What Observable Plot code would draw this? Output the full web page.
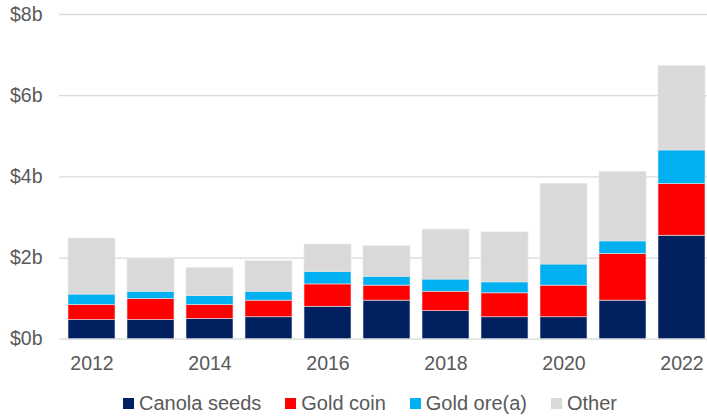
<!DOCTYPE html>
<html>
<head>
<meta charset="utf-8">
<script src="https://cdn.jsdelivr.net/npm/d3@7"></script>
<script src="https://cdn.jsdelivr.net/npm/@observablehq/plot@0.6"></script>
<style>
  html, body { margin: 0; padding: 0; background: #fff; overflow: hidden; }
  #wrap { position: relative; width: 707px; height: 417px; font-family: "Liberation Sans", Arial, sans-serif; }
  #legend { position: absolute; top: 392px; left: 123px; display: flex; align-items: center; font-size: 20px; color: #595959; white-space: nowrap; }
  .item { display: flex; align-items: center; margin-right: 24px; }
  .sw { width: 11px; height: 11px; margin-right: 5px; }
</style>
</head>
<body>
<div id="wrap"><div id="chart"></div><div id="legend"></div></div>
<script>
const years = ["2012","2013","2014","2015","2016","2017","2018","2019","2020","2021","2022"];
const categories = ["Canola seeds", "Gold coin", "Gold ore(a)", "Other"];
const colors = ["#002060", "#FF0000", "#00B0F0", "#D9D9D9"];
const canolaSeeds = [0.47, 0.47, 0.50, 0.54, 0.80, 0.95, 0.69, 0.54, 0.54, 0.95, 2.55];
const goldCoin    = [0.37, 0.52, 0.34, 0.41, 0.55, 0.37, 0.48, 0.59, 0.78, 1.15, 1.27];
const goldOre     = [0.26, 0.18, 0.22, 0.22, 0.31, 0.22, 0.30, 0.27, 0.52, 0.31, 0.83];
const other       = [1.38, 0.81, 0.69, 0.75, 0.67, 0.75, 1.23, 1.23, 1.99, 1.71, 2.08];
const yTicks = [0, 2, 4, 6, 8];
const xTicks = ["2012","2014","2016","2018","2020","2022"];

const series = [canolaSeeds, goldCoin, goldOre, other];
const data = [];
categories.forEach((c, i) => years.forEach((y, j) => data.push({year: y, category: c, value: series[i][j]})));

const chart = Plot.plot({
  width: 707,
  height: 388,
  marginLeft: 59,
  marginRight: 0,
  marginTop: 14,
  marginBottom: 49.3,
  style: {fontFamily: "'Liberation Sans', Arial, sans-serif", fontSize: "19.5px", color: "#595959", background: "#fff"},
  x: {domain: years, range: [60, 713.4], paddingInner: 0.21, paddingOuter: 0.105, label: null},
  y: {domain: [0, 8], label: null},
  color: {domain: categories, range: colors},
  marks: [
    Plot.gridY(yTicks, {stroke: "#D9D9D9", strokeOpacity: 1, strokeWidth: 1.3}),
    Plot.barY(data, {x: "year", y: "value", fill: "category", order: categories, stroke: "#E6E6E6", strokeWidth: 0.6}),
    Plot.axisY(yTicks, {tickSize: 0, tickPadding: 17, tickFormat: d => `$${d}b`, fill: "#595959", label: null}),
    Plot.axisX(xTicks, {tickSize: 0, tickPadding: 17, fill: "#595959", label: null})
  ]
});
document.getElementById("chart").appendChild(chart);

const legend = document.getElementById("legend");
categories.forEach((c, i) => {
  const it = document.createElement("div");
  it.className = "item";
  it.innerHTML = `<span class="sw" style="background:${colors[i]}"></span><span>${c}</span>`;
  legend.appendChild(it);
});
</script>
</body>
</html>
